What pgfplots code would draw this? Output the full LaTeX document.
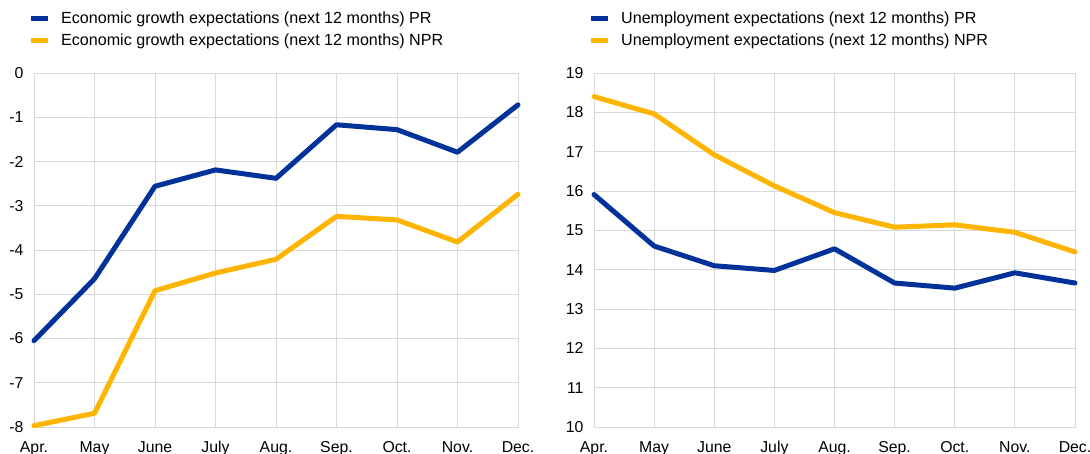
\documentclass[border=0pt]{standalone}
\usepackage{pgfplots}
\pgfplotsset{compat=1.18}
\usepackage{fontspec}
\setmainfont{Liberation Sans}
\definecolor{ecbblue}{HTML}{003299}
\definecolor{ecbyellow}{HTML}{FFB400}
\definecolor{gridgray}{HTML}{D9D9D9}
\pgfplotsset{
  myaxis/.style={
    scale only axis,
    height=354bp,
    xmin=0, xmax=8,
    xtick={0,...,8},
    xticklabels={Apr.,May,June,July,Aug.,Sep.,Oct.,Nov.,Dec.},
    grid=major,
    grid style={gridgray, line width=0.8bp},
    axis line style={gridgray, line width=0.8bp},
    major tick length=0pt,
    tick label style={font=\fontsize{15.8bp}{18bp}\selectfont, text=black},
    /pgf/number format/assume math mode=true,
    xticklabel style={yshift=-11bp},
    yticklabel style={xshift=-7bp},
    clip=false,
    legend style={at={(0,1)}, anchor=south west, yshift=24bp, xshift=-6bp,
      draw=none, fill=none, inner sep=0pt, row sep=5bp,
      font=\fontsize{16.1bp}{19bp}\selectfont},
    legend cell align=left,
    legend image code/.code={\draw[##1, line width=5bp, line cap=butt] (0bp,0bp) -- (17bp,0bp); \path (26bp,0bp);},
    every axis plot/.append style={line width=5bp, line join=round, line cap=round},
  }
}
\begin{document}
\begin{tikzpicture}
\useasboundingbox (0,0) rectangle (1090bp,454bp);
\begin{axis}[myaxis, at={(34bp,27bp)}, anchor=south west, width=484bp,
  ymin=-8, ymax=0, ytick={-8,...,0}]
\addplot[ecbblue] coordinates {(0,-6.05) (1,-4.65) (2,-2.56) (3,-2.19) (4,-2.38) (5,-1.17) (6,-1.28) (7,-1.79) (8,-0.72)};
\addlegendentry{Economic growth expectations (next 12 months) PR}
\addplot[ecbyellow] coordinates {(0,-7.97) (1,-7.69) (2,-4.92) (3,-4.52) (4,-4.21) (5,-3.24) (6,-3.32) (7,-3.82) (8,-2.74)};
\addlegendentry{Economic growth expectations (next 12 months) NPR}
\end{axis}
\begin{axis}[myaxis, at={(594bp,27bp)}, anchor=south west, width=481bp,
  ymin=10, ymax=19, ytick={10,...,19}]
\addplot[ecbblue] coordinates {(0,15.91) (1,14.60) (2,14.10) (3,13.98) (4,14.53) (5,13.66) (6,13.53) (7,13.92) (8,13.66)};
\addlegendentry{Unemployment expectations (next 12 months) PR}
\addplot[ecbyellow] coordinates {(0,18.40) (1,17.96) (2,16.92) (3,16.13) (4,15.45) (5,15.08) (6,15.14) (7,14.95) (8,14.45)};
\addlegendentry{Unemployment expectations (next 12 months) NPR}
\end{axis}
\end{tikzpicture}
\end{document}
